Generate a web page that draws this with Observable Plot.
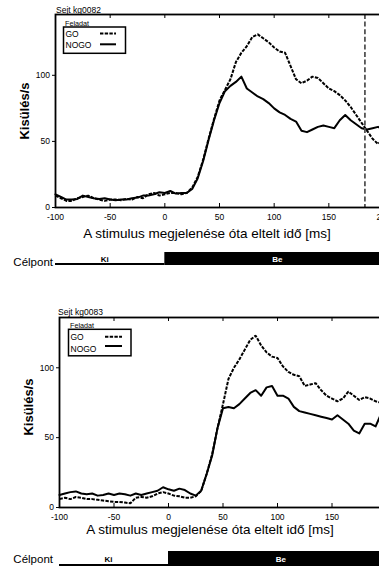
<!DOCTYPE html>
<html>
<head>
<meta charset="utf-8">
<script src="https://cdn.jsdelivr.net/npm/d3@7"></script>
<script src="https://cdn.jsdelivr.net/npm/@observablehq/plot@0.6"></script>
<style>
  html, body { margin: 0; padding: 0; background: #fff; overflow: hidden; }
  #fig { position: relative; width: 379px; height: 568px; overflow: hidden;
         font-family: "Liberation Sans", Arial, Helvetica, sans-serif; }
  #fig > svg { position: absolute; max-width: none !important; }
</style>
</head>
<body>
<div id="fig"></div>
<script>
// Time since stimulus onset (ms), shared by all firing-rate traces
const timeMs = [
  -100, -95, -90, -85, -80, -75, -70, -65, -60, -55,
  -50, -45, -40, -35, -30, -25, -20, -15, -10, -5,
  0, 5, 10, 15, 20, 25, 30, 35, 40, 45,
  50, 55, 60, 65, 70, 75, 80, 85, 90, 95,
  100, 105, 110, 115, 120, 125, 130, 135, 140, 145,
  150, 155, 160, 165, 170, 175, 180, 185, 190, 195, 200
];

// Cell kg0082, firing rate (spikes/s)
const goKg0082 = [
  9, 7, 5, 5, 7, 8, 9, 7, 6, 5,
  6, 6, 5.5, 6.5, 6, 8, 7, 10, 11, 9,
  10, 11, 11, 10, 11, 15, 23, 36, 52, 67,
  81, 89, 97, 110, 117, 122, 129, 131, 128, 125,
  121, 118, 117, 107, 97, 94, 96, 99, 98, 94,
  90, 88, 85, 81, 76, 70, 64, 58, 52, 48, 52
];
const nogoKg0082 = [
  10, 8, 6, 6, 6.5, 9, 8, 7, 6.5, 7,
  6, 5.5, 6, 6, 7, 7.5, 9, 9, 10, 11.5,
  11, 12.5, 10.5, 11, 11, 14, 22, 35, 51, 66,
  79, 88, 92, 95, 99, 90, 87, 84, 82, 79,
  75, 72, 70, 67, 65, 58, 57, 59, 61, 62,
  61, 60, 66, 70, 66, 63, 60, 59, 60, 61, 59
];

// Cell kg0083, firing rate (spikes/s)
const goKg0083 = [
  6, 7, 6, 7.5, 7, 6, 6, 5.5, 5, 4.5,
  4, 4, 3.5, 3, 7, 7.5, 7, 8, 10, 11,
  10, 8.5, 8, 7, 7, 8, 12, 24, 38, 57,
  74, 92, 100, 106, 113, 120, 123, 116, 111, 108,
  107, 101, 97, 95, 94, 87, 88, 89, 84, 80,
  78, 76, 78, 83, 80, 77, 79, 78, 76, 75, 74
];
const nogoKg0083 = [
  9, 10, 11, 11.5, 10, 9.5, 10, 8.5, 9, 10,
  9, 10, 9.5, 8.5, 10, 9, 10, 11, 12, 14.5,
  13, 12, 13.5, 12.5, 10, 8.5, 12, 24, 37, 57,
  71, 72, 71, 74, 78, 82, 84, 80, 86, 87,
  80, 80, 78, 72, 69, 68, 67, 66, 65, 64,
  63, 66, 63, 60, 55, 53, 60, 60, 58, 67, 68
];

// Axis ticks
const xTicks = [-100, -50, 0, 50, 100, 150, 200];
const yTicks = [0, 50, 100];

// Target ("Célpont") state along the time axis
const targetPhases = [
  {label: "Ki", start: -100, end: 0},
  {label: "Be", start: 0, end: 200}
];

// Marker time (ms) drawn for cell kg0082
const markerKg0082 = 183;

const FONT = '"Liberation Sans", Arial, Helvetica, sans-serif';
const GO_DASH = "3.4,1.3";
const fig = document.getElementById("fig");

const panels = [
  {cell: "Sejt kg0082", go: goKg0082, nogo: nogoKg0082, marker: markerKg0082,
   top: 0, height: 225, marginTop: 14, marginBottom: 18, marginLeft: 55, width: 390, marginRight: 7,
   yMax: 146, barTop: 252, barHeight: 13},
  {cell: "Sejt kg0083", go: goKg0083, nogo: nogoKg0083, marker: null,
   top: 300, height: 225, marginTop: 17, marginBottom: 18, marginLeft: 59, width: 392, marginRight: 6,
   yMax: 136, barTop: 551, barHeight: 15}
];

function ratePlot(p) {
  const rows = timeMs.flatMap((t, i) => [
    {t, rate: p.go[i], task: "GO"},
    {t, rate: p.nogo[i], task: "NOGO"}
  ]);
  const innerH = p.height - p.marginTop - p.marginBottom;
  return Plot.plot({
    width: p.width, height: p.height,
    marginTop: p.marginTop, marginBottom: p.marginBottom,
    marginLeft: p.marginLeft, marginRight: p.marginRight,
    style: {fontFamily: FONT, fontSize: "8.5px", color: "#000", background: "transparent", overflow: "visible", maxWidth: "none"},
    x: {domain: [-100, 200], axis: null, label: null},
    y: {domain: [0, p.yMax], axis: null, label: null},
    marks: [
      Plot.line(rows.filter(d => d.task === "NOGO"), {x: "t", y: "rate", stroke: "#000", strokeWidth: 2}),
      Plot.line(rows.filter(d => d.task === "GO"), {x: "t", y: "rate", stroke: "#000", strokeWidth: 2, strokeDasharray: GO_DASH, strokeLinecap: "butt", strokeLinejoin: "miter"}),
      p.marker != null
        ? Plot.ruleX([p.marker], {stroke: "#555", strokeWidth: 1.8, strokeDasharray: "5,2.6"})
        : null,
      Plot.frame({stroke: "#000", strokeWidth: 1.8}),
      Plot.tickX(xTicks, {x: d => d, insetTop: innerH - 4, stroke: "#000", strokeWidth: 1}),
      Plot.tickX(xTicks, {x: d => d, insetBottom: innerH - 4, stroke: "#000", strokeWidth: 1}),
      Plot.axisX(xTicks, {anchor: "bottom", tickSize: 0, tickPadding: 6, tickFormat: d => String(d), fontSize: 8.5, label: null}),
      Plot.axisY(yTicks, {anchor: "left", tickSize: 3, tickPadding: 2.5, tickFormat: d => String(d), fontSize: 8.5, label: null})
    ]
  });
}

function targetBar(p) {
  return Plot.plot({
    width: p.width, height: p.barHeight,
    marginTop: 0, marginBottom: 0, marginLeft: p.marginLeft, marginRight: p.marginRight,
    style: {fontFamily: FONT, background: "transparent", overflow: "visible", maxWidth: "none"},
    x: {domain: [-100, 200], axis: null},
    marks: [
      Plot.rect(targetPhases.filter(d => d.label === "Be"), {x1: "start", x2: "end", fill: "#000"}),
      Plot.rect(targetPhases.filter(d => d.label === "Ki"), {x1: "start", x2: "end", fill: "#000", insetTop: p.barHeight - 2}),
      Plot.text(targetPhases.filter(d => d.label === "Ki"), {x: d => (d.start + d.end) / 2 - 5, text: "label", fill: "#000", fontWeight: "bold", fontSize: 8}),
      Plot.text(targetPhases.filter(d => d.label === "Be"), {x: d => (d.start + d.end) / 2 + 3, text: "label", fill: "#fff", fontWeight: "bold", fontSize: 8})
    ]
  });
}

const NS = "http://www.w3.org/2000/svg";
function el(tag, attrs, text) {
  const e = document.createElementNS(NS, tag);
  for (const k in attrs) e.setAttribute(k, attrs[k]);
  if (text != null) e.textContent = text;
  return e;
}

panels.forEach(p => {
  const svg = ratePlot(p);
  svg.style.left = "0px";
  svg.style.top = p.top + "px";
  svg.style.maxWidth = "none";
  fig.appendChild(svg);

  const bar = targetBar(p);
  bar.style.left = "0px";
  bar.style.top = p.barTop + "px";
  bar.style.maxWidth = "none";
  fig.appendChild(bar);
});

// Titles, axis titles and legends
const overlay = el("svg", {width: 379, height: 568, style: "left:0;top:0;font-family:" + FONT.replace(/"/g, "'")});
fig.appendChild(overlay);

const legends = [
  {title: panels[0].cell, tx: 56, ty: 13, box: [63.5, 27, 62, 26.3], fx: 65, fy: 26, rows: [36.6, 48.2], sx: [100, 116], sy: [33.4, 44.3],
   ylab: [29, 111], xlab: [207, 238], cue: 266},
  {title: panels[1].cell, tx: 58, ty: 315, box: [68.5, 329.3, 62.5, 26.5], fx: 70, fy: 327.7, rows: [339.5, 351.8], sx: [105, 122], sy: [336.7, 346],
   ylab: [33, 407], xlab: [210, 534], cue: 563}
];

legends.forEach(L => {
  overlay.appendChild(el("text", {x: L.tx, y: L.ty, "font-size": 8.5, fill: "#000"}, L.title));
  overlay.appendChild(el("text", {x: L.fx, y: L.fy, "font-size": 7.2, fill: "#000"}, "Feladat"));
  overlay.appendChild(el("rect", {x: L.box[0], y: L.box[1], width: L.box[2], height: L.box[3], fill: "#fff", stroke: "#000", "stroke-width": 1.5}));
  overlay.appendChild(el("text", {x: L.box[0] + 2, y: L.rows[0], "font-size": 8.5, fill: "#000"}, "GO"));
  overlay.appendChild(el("text", {x: L.box[0] + 2, y: L.rows[1], "font-size": 8.5, fill: "#000"}, "NOGO"));
  overlay.appendChild(el("line", {x1: L.sx[0], x2: L.sx[1], y1: L.sy[0], y2: L.sy[0], stroke: "#000", "stroke-width": 2, "stroke-dasharray": GO_DASH}));
  overlay.appendChild(el("line", {x1: L.sx[0], x2: L.sx[1], y1: L.sy[1], y2: L.sy[1], stroke: "#000", "stroke-width": 2}));
  overlay.appendChild(el("text", {transform: `translate(${L.ylab[0]},${L.ylab[1]}) rotate(-90)`, "text-anchor": "middle", "font-size": 13, "font-weight": "bold", fill: "#000"}, "Kisülés/s"));
  overlay.appendChild(el("text", {x: L.xlab[0], y: L.xlab[1], "text-anchor": "middle", "font-size": 13.5, fill: "#000"}, "A stimulus megjelenése óta eltelt idő [ms]"));
  overlay.appendChild(el("text", {x: 53, y: L.cue, "text-anchor": "end", "font-size": 11.5, fill: "#000"}, "Célpont"));
});
</script>
</body>
</html>
